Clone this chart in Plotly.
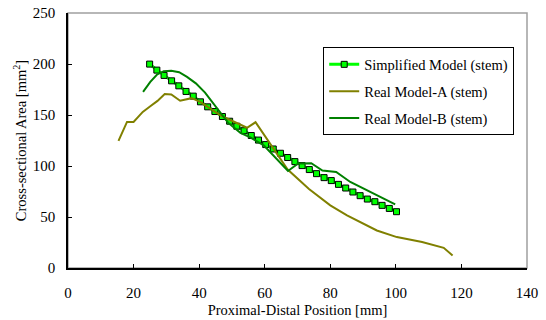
import plotly.graph_objects as go

# Simplified Model (stem)
simp_x = [24.9, 27.1, 29.3, 31.6, 33.8, 36.0, 38.2, 40.4, 42.6, 44.8, 47.1,
          49.3, 51.5, 53.7, 55.9, 58.1, 60.3, 62.6, 64.8, 67.0, 69.2, 71.4,
          73.6, 75.8, 78.1, 80.3, 82.5, 84.7, 86.9, 89.1, 91.3, 93.6, 95.8,
          98.0, 100.2]
simp_y = [199.9, 194.0, 188.8, 183.5, 178.6, 173.1, 168.5, 162.9, 158.0, 153.4,
          148.5, 143.9, 139.0, 134.6, 129.9, 125.4, 121.0, 116.7, 112.5, 108.3,
          104.3, 100.4, 96.5, 92.5, 88.6, 85.7, 82.0, 78.4, 74.5, 70.9, 67.6,
          65.0, 61.4, 58.4, 55.2]

# Real Model-A (stem)
a_x = [15.4, 18.0, 20.0, 22.8, 25.1, 27.3, 29.5, 31.5, 34.2, 37.7, 40.3, 42.6,
       44.9, 47.2, 49.5, 52.3, 54.6, 57.2, 62.0, 67.0, 73.5, 80.0, 85.1, 89.2,
       94.2, 100.3, 108.0, 114.6, 117.3]
a_y = [124.6, 143.2, 143.2, 153.0, 158.6, 163.8, 170.5, 170.1, 164.0, 166.5,
       162.9, 157.5, 153.0, 148.5, 144.9, 140.7, 137.5, 142.9, 120.0, 96.5,
       77.4, 61.4, 51.6, 45.0, 36.8, 30.3, 25.4, 19.8, 12.3]

# Real Model-B (stem)
b_x = [22.9, 25.1, 27.1, 29.2, 31.5, 33.9, 36.3, 39.0, 41.8, 44.8, 48.8, 52.6,
       55.6, 59.7, 63.0, 67.1, 70.2, 74.2, 77.6, 81.8, 86.1, 90.2, 95.3, 99.8]
b_y = [172.7, 182.5, 189.5, 193.0, 193.3, 192.0, 187.4, 181.0, 172.0, 159.0,
       142.5, 132.5, 128.0, 120.3, 109.0, 95.1, 102.4, 102.7, 95.5, 94.1,
       84.3, 77.8, 69.5, 62.4]

x_ticks = [0, 20, 40, 60, 80, 100, 120, 140]
y_ticks = [0, 50, 100, 150, 200, 250]

FONT = "'Liberation Serif', 'Times New Roman', 'DejaVu Serif', serif"

fig = go.Figure()
fig.add_trace(go.Scatter(
    x=simp_x, y=simp_y, mode="lines+markers", name="Simplified Model (stem)",
    line=dict(color="#00ff00", width=3),
    marker=dict(symbol="square", size=6, color="#00ff00",
                line=dict(color="#000000", width=1)),
    legendgroup="s"))
fig.add_trace(go.Scatter(
    x=a_x, y=a_y, mode="lines", name="Real Model-A (stem)",
    line=dict(color="#808000", width=2), legendgroup="a"))
fig.add_trace(go.Scatter(
    x=b_x, y=b_y, mode="lines", name="Real Model-B (stem)",
    line=dict(color="#008000", width=2), legendgroup="b"))

fig.update_layout(
    width=546, height=320,
    margin=dict(l=68, r=19, t=13, b=52, pad=0, autoexpand=False),
    paper_bgcolor="white", plot_bgcolor="white",
    font=dict(family=FONT, size=14, color="#000000"),
    showlegend=True,
    legend=dict(x=0.556, y=0.865, xanchor="left", yanchor="top",
                bgcolor="white", bordercolor="#000000", borderwidth=1,
                font=dict(family=FONT, size=14.5),
                tracegroupgap=5, itemwidth=30),
    shapes=[dict(type="rect", xref="paper", yref="paper", x0=0, x1=1, y0=0, y1=1,
                 line=dict(color="#a0a0a0", width=1.5), layer="below")],
)
fig.update_xaxes(
    range=[0, 140], tickvals=x_ticks, ticktext=[str(v) for v in x_ticks],
    automargin=False,
    showgrid=False, zeroline=False, showline=True, linecolor="#000000", linewidth=1.5,
    ticks="inside", ticklen=4, tickcolor="#000000", tickwidth=1,
    tickfont=dict(family=FONT, size=15), ticklabelstandoff=10,
    title=dict(text="Proximal-Distal Position [mm]", font=dict(family=FONT, size=14.5), standoff=5))
fig.update_yaxes(
    range=[0, 250], tickvals=y_ticks, ticktext=[str(v) for v in y_ticks],
    automargin=False,
    showgrid=False, zeroline=False, showline=True, linecolor="#000000", linewidth=1.5,
    ticks="inside", ticklen=4, tickcolor="#000000", tickwidth=1,
    tickfont=dict(family=FONT, size=15), ticklabelstandoff=8,
    title=dict(text="Cross-sectional Area [mm<sup>2</sup>]", font=dict(family=FONT, size=14.5), standoff=3))

fig.write_html("out.html")
